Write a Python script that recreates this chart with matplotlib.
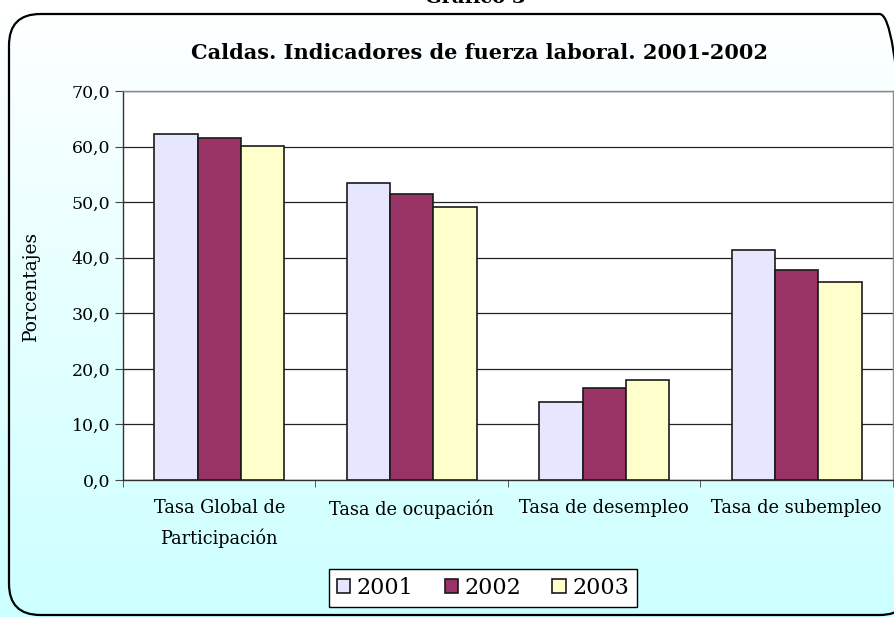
import matplotlib
matplotlib.use("Agg")
import matplotlib.pyplot as plt
import numpy as np
from matplotlib.patches import FancyBboxPatch
from matplotlib.colors import LinearSegmentedColormap

categories = ["Tasa Global de\nParticipación", "Tasa de ocupación", "Tasa de desempleo", "Tasa de subempleo"]
years = ["2001", "2002", "2003"]
v2001 = [62.3, 53.4, 14.0, 41.4]
v2002 = [61.5, 51.5, 16.6, 37.8]
v2003 = [60.1, 49.1, 18.0, 35.6]
colors = ["#E6E6FF", "#993366", "#FFFFCC"]
yticks = [0, 10, 20, 30, 40, 50, 60, 70]
ytick_labels = ["0,0", "10,0", "20,0", "30,0", "40,0", "50,0", "60,0", "70,0"]

W, H = 895, 617
fig = plt.figure(figsize=(W/100, H/100), dpi=100)

# background gradient
bg = fig.add_axes([0, 0, 1, 1], zorder=-10)
grad = np.linspace(0, 1, 256).reshape(-1, 1)
cmap = LinearSegmentedColormap.from_list("g", ["#CCFFFF", "#FFFFFF"])
bg.imshow(grad, aspect="auto", cmap=cmap, extent=[0, 1, 0, 1], origin="lower")
bg.set_xlim(0, 1); bg.set_ylim(0, 1)
bg.axis("off")
bg.add_patch(plt.Rectangle((0, 1 - 14/H), 1, 14/H, color="white", zorder=1))
frame = FancyBboxPatch((9/W, 2/H), (893-9)/W + 0.02, (603)/H - 2/H,
                       boxstyle="round,pad=0,rounding_size=0.035",
                       transform=bg.transAxes, fill=False, edgecolor="black", lw=1.6,
                       mutation_aspect=W/H, zorder=2)
bg.add_patch(frame)
fig.text(475/W, 1 + 11/H, "Gráfico 3", ha="center", va="top", fontsize=14,
         fontweight="bold", family="DejaVu Serif")

fig.text(480/W, 1 - 53/H, "Caldas. Indicadores de fuerza laboral. 2001-2002",
         family="DejaVu Serif", fontweight="bold", fontsize=15, ha="center", va="center")

ax = fig.add_axes([123/W, 1 - 480/H, (893-123)/W, (480-91)/H])
x = np.arange(len(categories))
bw = 0.225
for i, (vals, c) in enumerate(zip([v2001, v2002, v2003], colors)):
    ax.bar(x + (i - 1) * bw, vals, bw, color=c, edgecolor="#1a1a1a", lw=1.2,
           label=years[i], zorder=3)

ax.set_xlim(-0.5, 3.5)
ax.set_ylim(0, 70)
ax.set_yticks(yticks)
ax.set_yticklabels(ytick_labels, family="DejaVu Serif", fontsize=12.5)
ax.yaxis.grid(True, color="#222222", lw=0.9, zorder=0)
ax.set_xticks(x)
ax.set_xticklabels(categories, family="DejaVu Serif", fontsize=12.8, linespacing=1.7)
ax.set_xticks(np.arange(-0.5, 4.0, 1.0), minor=True)
ax.tick_params(axis="x", which="major", length=0, pad=14)
ax.tick_params(axis="x", which="minor", length=5, direction="out", color="#444444")
ax.tick_params(axis="y", length=6, direction="out", color="#444444", pad=3)
for s in ["top", "right"]:
    ax.spines[s].set_color("#888888")
    ax.spines[s].set_linewidth(1.0)
for s in ["left", "bottom"]:
    ax.spines[s].set_color("#333333")
    ax.spines[s].set_linewidth(1.0)
ax.set_ylabel("Porcentajes", family="DejaVu Serif", fontsize=13.5)
ax.yaxis.set_label_coords(-0.108, 0.5)
ax.set_facecolor("white")

leg = fig.legend(loc="center", bbox_to_anchor=(483/W, 1 - 588/H), ncol=3,
                 prop={"family": "DejaVu Serif", "size": 16}, frameon=True,
                 fancybox=False, edgecolor="black", handlelength=0.6, handleheight=0.6,
                 handletextpad=0.3, columnspacing=1.4, borderpad=0.35)
leg.get_frame().set_linewidth(1.0)
leg.get_frame().set_facecolor("white")
leg.get_frame().set_alpha(1.0)

fig.savefig("out.png", dpi=100)
